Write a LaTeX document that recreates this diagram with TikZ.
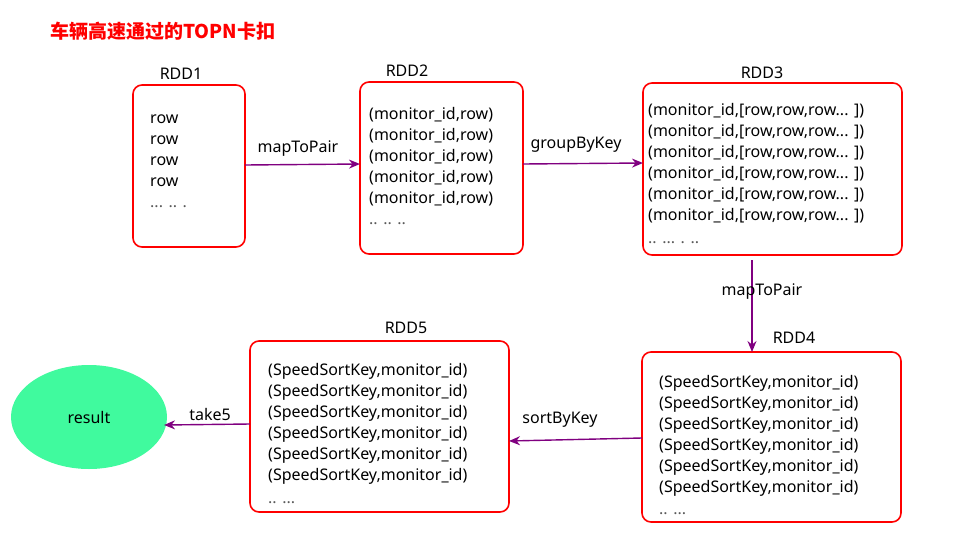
\documentclass[tikz,border=0pt]{standalone}
\usepackage{fontspec}
\setmainfont{Noto Sans}
\newfontfamily\cjk{Noto Sans CJK SC}
\usetikzlibrary{arrows.meta,shapes.geometric}
\definecolor{boxred}{RGB}{255,0,0}
\definecolor{arrowpurple}{RGB}{128,0,128}
\definecolor{resgreen}{RGB}{64,250,158}
\definecolor{dotgray}{RGB}{90,90,90}
\tikzset{
  rddbox/.style={draw=boxred, line width=1.6pt, rounded corners=9pt},
  rddlabel/.style={font=\fontsize{16}{18}\selectfont, inner sep=0pt},
  rowtext/.style={font=\fontsize{16}{18}\selectfont, inner sep=0pt, anchor=west, text height=11.5pt, text depth=4pt, yshift=-2.5pt},
  dottext/.style={rowtext, text=dotgray},
  flow/.style={draw=arrowpurple, line width=1.4pt, -{Stealth[length=11pt,width=9pt]}},
  flowlabel/.style={font=\fontsize{16}{18}\selectfont, inner sep=0pt}
}
\begin{document}
\begin{tikzpicture}[x=1pt,y=-1pt]
\useasboundingbox (0,0) rectangle (979,549);
% title
\node[font=\cjk\bfseries\fontsize{19}{21}\selectfont, text=boxred, anchor=west, inner sep=0pt] (title) at (50,31) {车辆高速通过的TOPN卡扣};
% boxes
\draw[rddbox] (133,85) rectangle (245,247);
\draw[rddbox] (360,82) rectangle (523,254);
\draw[rddbox] (643,83) rectangle (902,255);
\draw[rddbox] (642,352) rectangle (901,522);
\draw[rddbox] (250,341) rectangle (509,512);
\coordinate (b1e) at (245,165);
\coordinate (b2w) at (360,164);
\coordinate (b2e) at (523,164);
\coordinate (b3w) at (643,163);
\coordinate (b3s) at (752,260);
\coordinate (b4n) at (752,352);
\coordinate (b4w) at (642,438);
\coordinate (b5e) at (509,441);
\coordinate (b5w) at (250,424);
% labels
\node[rddlabel] (l1) at (181,74) {RDD1};
\node[rddlabel] (l2) at (407,71) {RDD2};
\node[rddlabel] (l3) at (762,73) {RDD3};
\node[rddlabel] (l4) at (794,338) {RDD4};
\node[rddlabel] (l5) at (406,328) {RDD5};
% RDD1 rows
\foreach \i/\y in {1/117,2/138,3/159,4/180}
  \node[rowtext] (r1-\i) at (150,\y) {row};
\node[dottext] (r1-d) at (150,201) {... .. .};
% RDD2 rows
\foreach \i/\y in {1/113,2/134,3/155,4/176,5/197}
  \node[rowtext] (r2-\i) at (369,\y) {(monitor\_id,row)};
\node[dottext] (r2-d) at (369,218) {.. .. ..};
% RDD3 rows
\foreach \i/\y in {1/109,2/130,3/151,4/172,5/193,6/214}
  \node[rowtext] (r3-\i) at (648,\y) {(monitor\_id,[row,row,row... ])};
\node[dottext] (r3-d) at (648,237) {.. ... . ..};
% RDD4 rows
\foreach \i/\y in {1/381,2/402,3/423,4/444,5/465,6/486}
  \node[rowtext] (r4-\i) at (659,\y) {(SpeedSortKey,monitor\_id)};
\node[dottext] (r4-d) at (659,508) {.. ...};
% RDD5 rows
\foreach \i/\y in {1/369,2/390,3/411,4/432,5/453,6/474}
  \node[rowtext] (r5-\i) at (268,\y) {(SpeedSortKey,monitor\_id)};
\node[dottext] (r5-d) at (268,497) {.. ...};
% result
\node[ellipse, fill=resgreen, minimum width=156pt, minimum height=104pt, inner sep=0pt, font=\fontsize{16}{18}\selectfont] (result) at (89,417) {result};
% arrows
\draw[flow] (b1e) -- (b2w);
\node[flowlabel] (m1) at (298,149) {mapToPair};
\draw[flow] (b2e) -- (b3w);
\node[flowlabel] (m2) at (576,145) {groupByKey};
\draw[flow] (b3s) -- (b4n);
\node[flowlabel] (m3) at (762,292) {mapToPair};
\draw[flow] (b4w) -- (b5e);
\node[flowlabel] (m4) at (560,420) {sortByKey};
\draw[flow] (b5w) -- (164,425);
\node[flowlabel] (m5) at (210,414) {take5};
\end{tikzpicture}
\end{document}
